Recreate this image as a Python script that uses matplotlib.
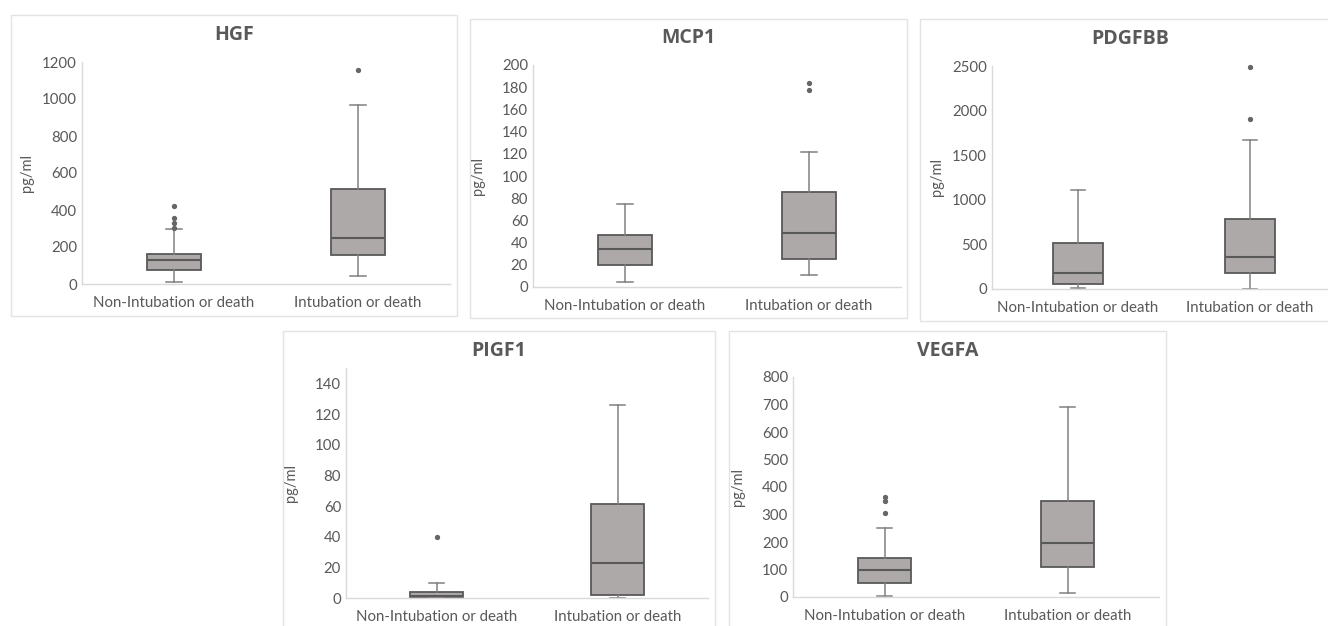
import matplotlib
matplotlib.use("Agg")
import matplotlib.pyplot as plt
from matplotlib.patches import Rectangle
import numpy as np

plt.rcParams['font.family'] = ['Lato', 'DejaVu Sans']

groups = ["Non-Intubation or death", "Intubation or death"]

# HGF
hgf_low = [9, 43]
hgf_q1 = [75, 155]
hgf_med = [128, 248]
hgf_q3 = [164, 514]
hgf_high = [300, 965]
hgf_out = [[422, 357, 330, 305], [1159]]

# MCP1
mcp1_low = [4.2, 10.5]
mcp1_q1 = [19.8, 25]
mcp1_med = [34.5, 48.6]
mcp1_q3 = [46.5, 85.5]
mcp1_high = [74.7, 122]
mcp1_out = [[], [177.6, 184]]

# PDGFBB
pdgf_low = [11, 4]
pdgf_q1 = [56, 175]
pdgf_med = [183, 358]
pdgf_q3 = [515, 783]
pdgf_high = [1108, 1675]
pdgf_out = [[], [1902, 2484]]

# PIGF1
pigf_low = [0, 0]
pigf_q1 = [0.5, 2.2]
pigf_med = [1.0, 22.6]
pigf_q3 = [3.9, 61.2]
pigf_high = [10, 126]
pigf_out = [[39.5], []]

# VEGFA
vegf_low = [3.6, 16]
vegf_q1 = [51, 109]
vegf_med = [99, 198]
vegf_q3 = [143, 349]
vegf_high = [252, 692]
vegf_out = [[364, 349, 305], []]

W, H = 1328, 626
fig = plt.figure(figsize=(W / 100, H / 100), dpi=100)

TXT = "#595959"
AXC = "#D9D9D9"

panels = [
    dict(title="HGF", low=hgf_low, q1=hgf_q1, med=hgf_med, q3=hgf_q3, high=hgf_high, out=hgf_out,
         ymax=1200, step=200, tickmax=1200,
         ax=(82, 450, 62, 284), frame=(11, 457, 15, 316), ty=35),
    dict(title="MCP1", low=mcp1_low, q1=mcp1_q1, med=mcp1_med, q3=mcp1_q3, high=mcp1_high, out=mcp1_out,
         ymax=200, step=20, tickmax=200,
         ax=(533, 901, 65, 287), frame=(470, 907, 19, 318), ty=38),
    dict(title="PDGFBB", low=pdgf_low, q1=pdgf_q1, med=pdgf_med, q3=pdgf_q3, high=pdgf_high, out=pdgf_out,
         ymax=2500, step=500, tickmax=2500,
         ax=(992, 1336, 66, 289), frame=(920, 1340, 19, 321), ty=39),
    dict(title="PIGF1", low=pigf_low, q1=pigf_q1, med=pigf_med, q3=pigf_q3, high=pigf_high, out=pigf_out,
         ymax=150, step=20, tickmax=140,
         ax=(346, 708, 368, 598), frame=(283, 715, 331, 640), ty=351),
    dict(title="VEGFA", low=vegf_low, q1=vegf_q1, med=vegf_med, q3=vegf_q3, high=vegf_high, out=vegf_out,
         ymax=800, step=100, tickmax=800,
         ax=(793, 1159, 377, 597), frame=(729, 1166, 331, 640), ty=351),
]

for p in panels:
    fx0, fx1, fy0, fy1 = p["frame"]
    rect = Rectangle((fx0 / W, 1 - fy1 / H), (fx1 - fx0) / W, (fy1 - fy0) / H,
                     transform=fig.transFigure, facecolor="none",
                     edgecolor="#E3E3E3", linewidth=1.0, zorder=-10)
    fig.add_artist(rect)
    x0, x1, y0, y1 = p["ax"]
    ax = fig.add_axes([x0 / W, 1 - y1 / H, (x1 - x0) / W, (y1 - y0) / H])
    ax.set_facecolor("none")
    ax.set_zorder(2)
    stats = []
    for i in range(2):
        stats.append(dict(whislo=p["low"][i], q1=p["q1"][i], med=p["med"][i], q3=p["q3"][i],
                          whishi=p["high"][i], fliers=p["out"][i]))
    ax.bxp(stats, positions=[1, 2], widths=0.29, capwidths=0.085, patch_artist=True,
           boxprops=dict(facecolor="#ADA9A8", edgecolor="#595959", linewidth=1.3),
           medianprops=dict(color="#595959", linewidth=1.5),
           whiskerprops=dict(color="#808080", linewidth=1.1),
           capprops=dict(color="#808080", linewidth=1.1),
           flierprops=dict(marker="o", markersize=2.8, markerfacecolor="#666666",
                           markeredgecolor="#666666", clip_on=False))
    ax.set_xlim(0.5, 2.5)
    ax.set_ylim(0, p["ymax"])
    ax.set_yticks(np.arange(0, p["tickmax"] + 1, p["step"]))
    ax.set_xticks([1, 2])
    ax.set_xticklabels(groups)
    for s in ["top", "right"]:
        ax.spines[s].set_visible(False)
    for s in ["left", "bottom"]:
        ax.spines[s].set_color(AXC)
        ax.spines[s].set_linewidth(1.0)
    ax.tick_params(axis="both", length=0, colors=TXT, labelsize=10.8)
    ax.tick_params(axis="x", pad=8.5)
    ax.tick_params(axis="y", pad=3.5)
    ax.set_ylabel("pg/ml", color=TXT, fontsize=10.5)
    ax.yaxis.set_label_coords(-(82 - 34) / (x1 - x0), 0.5)
    fig.text((fx0 + fx1) / 2 / W, 1 - p["ty"] / H, p["title"], ha="center", va="center",
             fontsize=14, fontweight="bold", color=TXT, family=["Open Sans", "DejaVu Sans"])

fig.savefig("out.png", dpi=100, facecolor="white")
